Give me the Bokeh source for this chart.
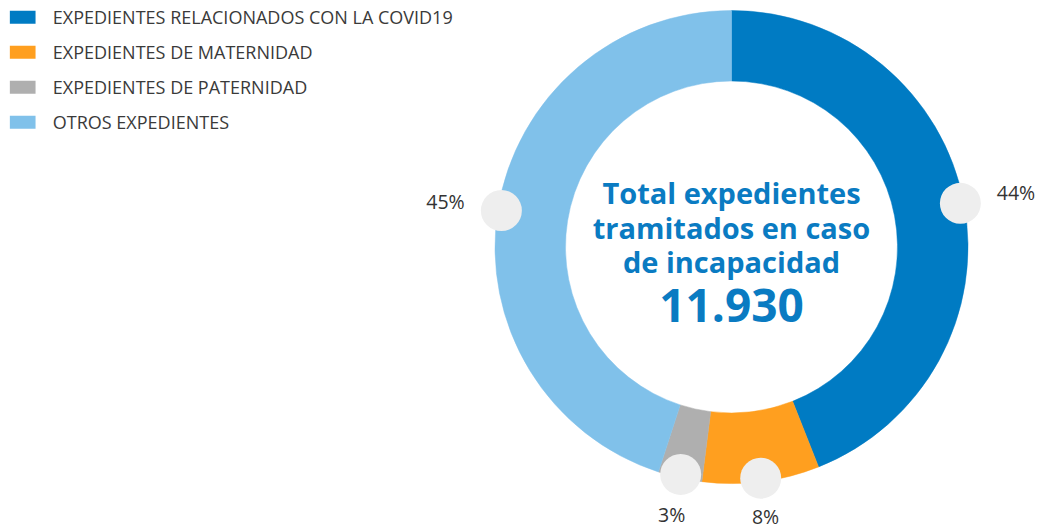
import math
from bokeh.plotting import figure
from bokeh.models import Range1d, ColumnDataSource
from bokeh.core.properties import value
from bokeh.embed import file_html
from bokeh.resources import INLINE

# ---- data ----
categories = [
    "EXPEDIENTES RELACIONADOS CON LA COVID19",
    "EXPEDIENTES DE MATERNIDAD",
    "EXPEDIENTES DE PATERNIDAD",
    "OTROS EXPEDIENTES",
]
percentages = [44, 8, 3, 45]
colors = ["#007bc3", "#ff9f1f", "#afafaf", "#80c1ea"]
center_title = ["Total expedientes", "tramitados en caso", "de incapacidad"]
total_label = "11.930"

# ---- layout (screen pixels; y measured from top) ----
W, H = 1044, 529
def Y(sy):
    return H - sy

cx, cy = 731.0, Y(246.5)
r_out, r_in = 236.5, 166.0
dot_dist = 233.0
dot_r = 20.5
gap = 10.0
lab_hw, lab_hh = 25.6, 5.0

FONT = "Open Sans"

p = figure(width=W, height=H, output_backend="svg", toolbar_location=None,
           x_range=Range1d(0, W), y_range=Range1d(0, H),
           x_axis_location=None, y_axis_location=None, min_border=0)
p.grid.visible = False
p.outline_line_color = None
p.background_fill_color = "white"
p.border_fill_color = "white"

total = float(sum(percentages))
starts, ends, mids = [], [], []
cum = 0.0
for v in percentages:
    f0 = cum / total
    cum += v
    f1 = cum / total
    starts.append(math.pi / 2 - 2 * math.pi * f0)
    ends.append(math.pi / 2 - 2 * math.pi * f1)
    mids.append(math.pi / 2 - 2 * math.pi * (f0 + f1) / 2)

src = ColumnDataSource(dict(start=starts, end=ends, color=colors))
p.annular_wedge(x=cx, y=cy, inner_radius=r_in, outer_radius=r_out,
                start_angle="start", end_angle="end", direction="clock",
                fill_color="color", line_color="color", line_width=0.5,
                source=src)

# dots and percentage labels
dot_x = [cx + dot_dist * math.cos(a) for a in mids]
dot_y = [cy + dot_dist * math.sin(a) for a in mids]
p.circle(x=dot_x, y=dot_y, radius=dot_r, fill_color="#eeeeee", line_color=None)

lab_x, lab_y = [], []
for a, dx, dy in zip(mids, dot_x, dot_y):
    ux, uy = math.cos(a), math.sin(a)
    d = dot_r + gap + abs(ux) * lab_hw + abs(uy) * lab_hh
    lab_x.append(dx + ux * d)
    lab_y.append(dy + uy * d)
p.text(x=lab_x, y=lab_y, text=[f"{v}%" for v in percentages],
       text_font=value(FONT), text_font_size="19.5px", text_color="#333333",
       text_align="center", text_baseline="middle")

# center text
title_y = [Y(192), Y(226.5), Y(261)]
p.text(x=[cx] * 3, y=title_y, text=center_title,
       text_font=value(FONT), text_font_style="bold", text_font_size="29px",
       text_color="#0a7bc2", text_align="center", text_baseline="middle")
p.text(x=[cx], y=[Y(305)], text=[total_label],
       text_font=value(FONT), text_font_style="bold", text_font_size="46px",
       text_color="#0a7bc2", text_align="center", text_baseline="middle")

# legend
leg_y = [Y(16.7 + 35 * i) for i in range(len(categories))]
p.rect(x=[22.2] * len(categories), y=leg_y, width=25.7, height=13,
       fill_color=colors, line_color=None)
p.text(x=[52.3] * len(categories), y=leg_y, text=categories,
       text_font=value(FONT), text_font_size="18px", text_color="#3a3a3a",
       text_align="left", text_baseline="middle")

open("out.html", "w").write(file_html(p, INLINE))
